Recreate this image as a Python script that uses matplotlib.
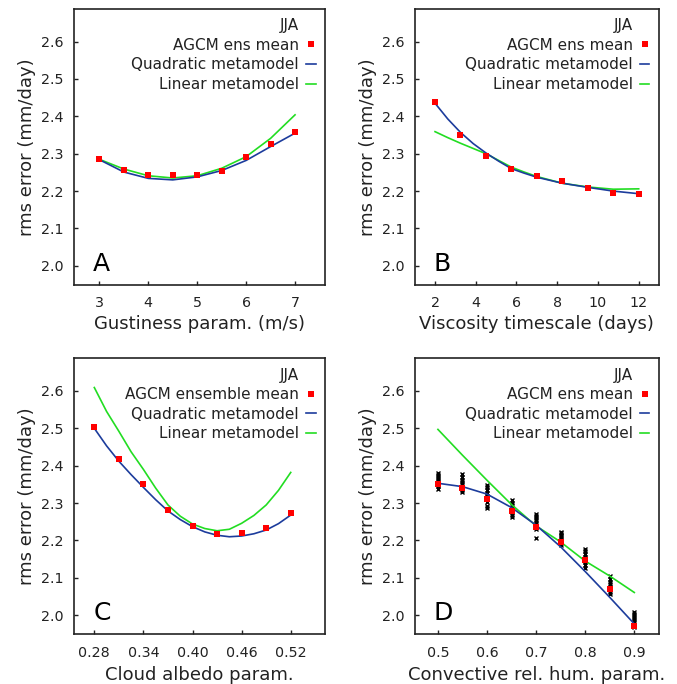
import matplotlib
matplotlib.use('Agg')
import matplotlib.pyplot as plt
from matplotlib.lines import Line2D
import numpy as np

# ---------------- datos ----------------
# Panel A: gustiness
a_x = [3.0, 3.5, 4.0, 4.5, 5.0, 5.5, 6.0, 6.5, 7.0]
a_ens = [2.286, 2.257, 2.242, 2.242, 2.242, 2.255, 2.290, 2.325, 2.358]
a_quad = [2.284, 2.251, 2.234, 2.230, 2.238, 2.255, 2.282, 2.319, 2.355]
a_lin = [2.285, 2.259, 2.241, 2.235, 2.241, 2.261, 2.292, 2.341, 2.404]

# Panel B: viscosity timescale
b_x = [2.0, 3.25, 4.5, 5.75, 7.0, 8.25, 9.5, 10.75, 12.0]
b_ens = [2.437, 2.351, 2.293, 2.260, 2.241, 2.228, 2.207, 2.196, 2.193]
b_cx = [2.0, 2.625, 3.25, 3.875, 4.5, 5.125, 5.75, 6.375, 7.0, 8.25, 9.5, 10.75, 12.0]
b_quad = [2.435, 2.393, 2.357, 2.327, 2.302, 2.280, 2.260, 2.248, 2.237, 2.221, 2.210, 2.200, 2.193]
b_lin = [2.359, 2.343, 2.328, 2.314, 2.300, 2.282, 2.264, 2.251, 2.239, 2.221, 2.211, 2.205, 2.206]

# Panel C: cloud albedo
c_x = [0.28, 0.31, 0.34, 0.37, 0.40, 0.43, 0.46, 0.49, 0.52]
c_ens = [2.504, 2.417, 2.351, 2.281, 2.238, 2.217, 2.220, 2.234, 2.274]
c_cx = [0.28, 0.295, 0.31, 0.325, 0.34, 0.355, 0.37, 0.385, 0.40, 0.415,
        0.43, 0.445, 0.46, 0.475, 0.49, 0.505, 0.52]
c_quad = [2.500, 2.453, 2.412, 2.376, 2.342, 2.309, 2.279, 2.256, 2.237, 2.223,
          2.214, 2.210, 2.212, 2.218, 2.228, 2.245, 2.268]
c_lin = [2.609, 2.545, 2.492, 2.437, 2.390, 2.340, 2.295, 2.265, 2.244, 2.232,
         2.226, 2.230, 2.246, 2.267, 2.295, 2.334, 2.382]

# Panel D: convective rel. hum.
d_x = [0.50, 0.55, 0.60, 0.65, 0.70, 0.75, 0.80, 0.85, 0.90]
d_ens = [2.351, 2.340, 2.312, 2.280, 2.237, 2.196, 2.148, 2.071, 1.972]
d_quad = [2.353, 2.344, 2.324, 2.288, 2.241, 2.183, 2.117, 2.048, 1.977]
d_lin = [2.497, 2.428, 2.361, 2.296, 2.239, 2.196, 2.145, 2.105, 2.061]
# miembros del ensamble (cruces)
d_members = [
    [2.338, 2.345, 2.352, 2.358, 2.364, 2.370, 2.376, 2.381],
    [2.330, 2.336, 2.343, 2.350, 2.357, 2.363, 2.370, 2.378],
    [2.286, 2.293, 2.302, 2.310, 2.318, 2.326, 2.334, 2.342, 2.348],
    [2.263, 2.268, 2.275, 2.281, 2.288, 2.295, 2.301, 2.308],
    [2.206, 2.230, 2.236, 2.242, 2.248, 2.254, 2.260, 2.266, 2.271],
    [2.188, 2.193, 2.199, 2.205, 2.210, 2.215, 2.220, 2.224],
    [2.127, 2.134, 2.142, 2.150, 2.157, 2.164, 2.171, 2.178],
    [2.056, 2.062, 2.069, 2.076, 2.083, 2.090, 2.097, 2.104],
    [1.970, 1.975, 1.981, 1.987, 1.993, 1.999, 2.004, 2.009],
]

yticks = [2.0, 2.1, 2.2, 2.3, 2.4, 2.5, 2.6]
ylim = (1.95, 2.687)

blue = '#1c3c9c'
green = '#22dd22'
red = '#ff0000'

plt.rcParams['font.family'] = 'DejaVu Sans'

fig = plt.figure(figsize=(6.77, 6.84), dpi=100)

pos = {
    'A': [0.1086, 0.584, 0.3715, 0.4028],
    'B': [0.6125, 0.584, 0.3604, 0.4028],
    'C': [0.1086, 0.0731, 0.3715, 0.403],
    'D': [0.6125, 0.0731, 0.3604, 0.403],
}

paneles = [
    ('A', a_x, a_ens, a_x, a_quad, a_lin, (2.472, 7.613), [3, 4, 5, 6, 7],
     ['3', '4', '5', '6', '7'], 'Gustiness param. (m/s)', 'AGCM ens mean'),
    ('B', b_x, b_ens, b_cx, b_quad, b_lin, (1.0, 12.98), [2, 4, 6, 8, 10, 12],
     ['2', '4', '6', '8', '10', '12'], 'Viscosity timescale (days)', 'AGCM ens mean'),
    ('C', c_x, c_ens, c_cx, c_quad, c_lin, (0.2546, 0.5619), [0.28, 0.34, 0.40, 0.46, 0.52],
     ['0.28', '0.34', '0.40', '0.46', '0.52'], 'Cloud albedo param.', 'AGCM ensemble mean'),
    ('D', d_x, d_ens, d_x, d_quad, d_lin, (0.4526, 0.9496), [0.5, 0.6, 0.7, 0.8, 0.9],
     ['0.5', '0.6', '0.7', '0.8', '0.9'], 'Convective rel. hum. param.', 'AGCM ens mean'),
]

for letra, x, ens, cx, quad, lin, xlim, xt, xtl, xlab, enslab in paneles:
    ax = fig.add_axes(pos[letra])

    if letra == 'D':
        for xi, mem in zip(d_x, d_members):
            ax.plot([xi] * len(mem), mem, linestyle='none', marker='x',
                    color='black', markersize=3.2, markeredgewidth=1.0, zorder=2)

    ax.plot(cx, lin, color=green, linewidth=1.2, zorder=3)
    ax.plot(cx, quad, color=blue, linewidth=1.2, zorder=4)
    ax.plot(x, ens, linestyle='none', marker='s', color=red, markersize=4.6,
            markeredgewidth=0, zorder=5)

    ax.set_xlim(xlim)
    ax.set_ylim(ylim)
    ax.set_xticks(xt)
    ax.set_xticklabels(xtl)
    ax.set_yticks(yticks)
    ax.set_yticklabels(['%.1f' % v for v in yticks])
    ax.tick_params(direction='in', length=3, width=1, labelsize=10.3,
                   colors='#222222', pad=7)
    ax.tick_params(axis='x', pad=8.5)
    for s in ax.spines.values():
        s.set_linewidth(1.2)
        s.set_color('#222222')

    ax.set_ylabel('rms error (mm/day)', fontsize=13, labelpad=4, color='#222222')
    ax.set_xlabel(xlab, fontsize=13, labelpad=3 if letra in 'AB' else 4.5, color='#222222')

    ax.text(0.078, 0.049, letra, transform=ax.transAxes, fontsize=18,
            ha='left', va='baseline', color='black')

    handles = [
        Line2D([], [], linestyle='none'),
        Line2D([], [], linestyle='none', marker='s', color=red, markersize=4.6,
               markeredgewidth=0),
        Line2D([], [], color=blue, linewidth=1.2),
        Line2D([], [], color=green, linewidth=1.2),
    ]
    etiquetas = ['JJA', enslab, 'Quadratic metamodel', 'Linear metamodel']
    ax.legend(handles, etiquetas, loc='upper right', frameon=False, markerfirst=False,
              fontsize=11, handlelength=0.65, handletextpad=0.45, labelspacing=0.3,
              borderpad=0, borderaxespad=0.6, numpoints=1, labelcolor='#222222')

plt.savefig('out.png', dpi=100)
plt.close('all')
